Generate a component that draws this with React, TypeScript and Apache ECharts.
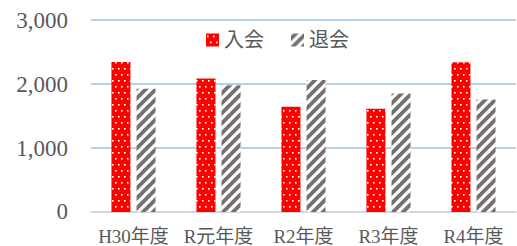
import React, { useEffect, useRef } from "react";
import * as echarts from "echarts";

const categories = ["H30年度", "R元年度", "R2年度", "R3年度", "R4年度"];
const joinValues = [2343, 2084, 1644, 1613, 2338];
const leaveValues = [1924, 1980, 2064, 1851, 1757];
const seriesNames = ["入会", "退会"];

const dotTile =
  "data:image/svg+xml;utf8," +
  encodeURIComponent(
    '<svg xmlns="http://www.w3.org/2000/svg" width="6" height="12"><rect width="6" height="12" fill="#ff0000"/><rect x="1" y="2" width="1.6" height="1.6" fill="#ffffff"/><rect x="4" y="8" width="1.6" height="1.6" fill="#ffffff"/></svg>'
  );
const stripeTile =
  "data:image/svg+xml;utf8," +
  encodeURIComponent(
    '<svg xmlns="http://www.w3.org/2000/svg" width="10" height="10"><rect width="10" height="10" fill="#767171"/><path d="M-2,12 L12,-2" stroke="#ffffff" stroke-width="3.2"/><path d="M-2,2 L2,-2" stroke="#ffffff" stroke-width="3.2"/><path d="M8,12 L12,8" stroke="#ffffff" stroke-width="3.2"/></svg>'
  );

function makeImg(src: string) {
  const img = new Image();
  img.src = src;
  return img;
}

export default function App() {
  const ref = useRef<HTMLDivElement>(null);
  useEffect(() => {
    if (!ref.current) return;
    const chart = echarts.init(ref.current, undefined, { renderer: "svg" });
    const dotImg = makeImg(dotTile);
    const stripeImg = makeImg(stripeTile);
    const font = "'Liberation Serif', 'Noto Sans CJK JP', serif";
    const render = () => {
      chart.setOption({
        animation: false,
        backgroundColor: "#ffffff",
        grid: { left: 91, right: 1, top: 20, bottom: 33 },
        legend: {
          top: 25,
          left: 201,
          icon: "rect",
          itemWidth: 13,
          itemHeight: 13,
          itemGap: 27,
          textStyle: { fontSize: 20, color: "#595959", fontFamily: font },
          data: seriesNames,
        },
        xAxis: {
          type: "category",
          data: categories,
          axisLine: { lineStyle: { color: "#d9d9d9", width: 1.5 } },
          axisTick: { show: false },
          axisLabel: {
            interval: 0,
            fontSize: 19,
            color: "#595959",
            margin: 15,
            fontFamily: font,
          },
        },
        yAxis: {
          type: "value",
          min: 0,
          max: 3000,
          interval: 1000,
          axisLine: { show: false },
          axisTick: { show: false },
          splitLine: { lineStyle: { color: "#9dc3e6", width: 1.5 } },
          axisLabel: {
            fontSize: 23,
            color: "#595959",
            margin: 23,
            fontFamily: "'Liberation Serif', serif",
            formatter: (v: number) => v.toLocaleString("en-US"),
          },
        },
        series: [
          {
            name: seriesNames[0],
            type: "bar",
            data: joinValues,
            barWidth: 19,
            barGap: "32%",
            itemStyle: { color: { image: dotImg, repeat: "repeat" } as any },
          },
          {
            name: seriesNames[1],
            type: "bar",
            data: leaveValues,
            barWidth: 19,
            itemStyle: { color: { image: stripeImg, repeat: "repeat" } as any },
          },
        ],
      });
    };
    render();
    let n = 0;
    const done = () => {
      n++;
      if (n >= 2) render();
    };
    dotImg.onload = done;
    stripeImg.onload = done;
    return () => chart.dispose();
  }, []);
  return (
    <div
      ref={ref}
      style={{ position: "fixed", left: 0, top: 0, width: 517, height: 246 }}
    />
  );
}
